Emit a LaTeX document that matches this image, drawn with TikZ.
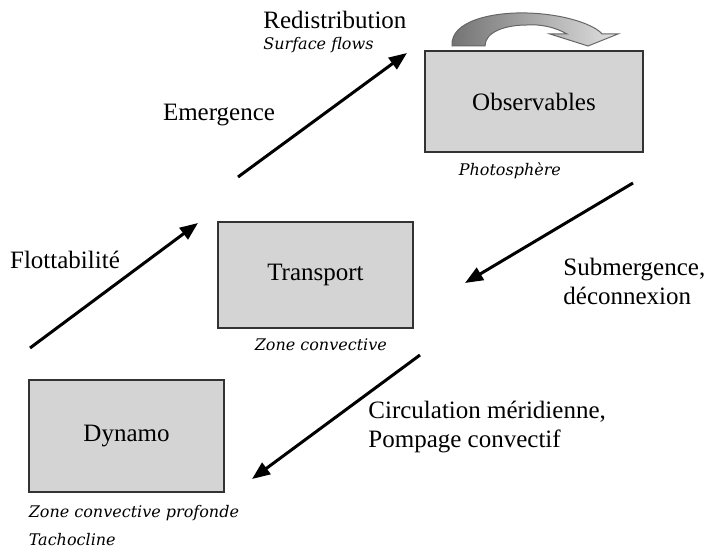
\documentclass[tikz,border=0pt]{standalone}
\usepackage{fontspec}
\setmainfont{Liberation Serif}
\newfontfamily\zonefont{DejaVu Serif}
\usepackage{tikz}
\usetikzlibrary{positioning,arrows.meta}

\tikzset{
  box/.style={draw=black!80, fill=black!17, line width=0.6pt, inner sep=0pt,
    font=\fontsize{12.5}{14.5}\selectfont},
  zone/.style={inner sep=0pt, align=left, font=\zonefont\itshape\fontsize{8}{14}\selectfont},
  txt/.style={inner sep=0pt, align=left, font=\fontsize{12.5}{14.5}\selectfont},
  flow/.style={line width=1.5pt, -{Triangle[length=9pt,width=7pt]}},
}

\begin{document}
\begin{tikzpicture}[x=0.5pt,y=-0.5pt]
\useasboundingbox (0,0) rectangle (711,550);

% the three layers
\node(OBS)    [box, minimum width=109pt, minimum height=50.5pt] at (534,101.5) {Observables};
\node(TRANS)  [box, minimum width=97.5pt, minimum height=53pt]  at (315.5,275)  {Transport};
\node(DYN)    [box, minimum width=97.5pt, minimum height=56pt]  at (126.5,436)  {Dynamo};

\node(PHOTO)  [zone, below right=5pt and 17pt of OBS.south west]     {Photosphère};
\node(ZCONV)  [zone, below right=5pt and 18.5pt of TRANS.south west] {Zone convective};
\node(ZPROF)  [zone, below right=6pt and 0pt of DYN.south west]      {Zone convective profonde\\Tachocline};

% arrow ends
\coordinate(FLOTA) at (30,348);
\coordinate(FLOTB) at (198,223);
\coordinate(EMERA) at (238,177);
\coordinate(EMERB) at (407,53);
\coordinate(SUBMA) at (633,183);
\coordinate(SUBMB) at (465,283);
\coordinate(CIRCA) at (420,355);
\coordinate(CIRCB) at (252,479);

\draw[flow] (FLOTA) -- (FLOTB);
\draw[flow] (EMERA) -- (EMERB);
\draw[flow] (SUBMA) -- (SUBMB);
\draw[flow] (CIRCA) -- (CIRCB);

% labels
\node(FLOT)   [txt] at (65,260)  {Flottabilité};
\node(EMER)   [txt] at (219,115) {Emergence};
\node(REDIS)  [txt, anchor=west] at (263,20) {Redistribution};
\node(SURF)   [zone, below right=4pt and 0pt of REDIS.south west] {Surface flows};
\node(SUBM)   [txt, anchor=west] at (563,281.5) {Submergence,\\déconnexion};
\node(CIRC)   [txt, anchor=west] at (368,427) {Circulation méridienne,\\Pompage convectif};

% redistribution loop
\draw[draw=black!60, line width=0.5pt, left color=black!55, right color=black!12]
  (452,46) .. controls (450,20) and (495,12) .. (527,13)
  .. controls (565,14) and (595,25) .. (602,34) -- (618,34) -- (588,46) -- (550,34) -- (567,34)
  .. controls (555,27) and (540,24) .. (527,25)
  .. controls (505,25) and (485,32) .. (485,46) -- cycle;
\end{tikzpicture}
\end{document}
